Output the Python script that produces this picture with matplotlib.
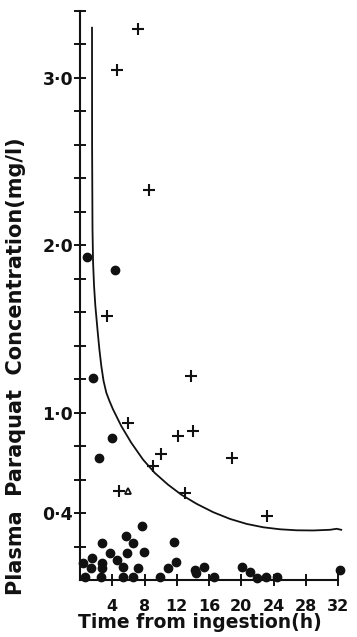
import matplotlib
matplotlib.use("Agg")
import matplotlib.pyplot as plt
import numpy as np

# ---- data ----
dots_x = [0.9, 4.4, 1.6, 4.0, 2.3, 2.7, 5.7, 7.7, 6.6, 7.9, 3.7, 4.6, 5.8, 5.3, 7.2,
          1.5, 0.4, 1.4, 2.7, 2.7, 0.6, 2.6, 5.3, 6.6, 9.9, 11.7, 11.9, 10.9, 14.3,
          14.4, 15.4, 16.6, 20.1, 21.1, 21.9, 23.1, 24.4, 32.2]
dots_y = [1.93, 1.85, 1.21, 0.85, 0.73, 0.22, 0.26, 0.32, 0.22, 0.17, 0.16, 0.12, 0.16, 0.08, 0.07,
          0.13, 0.10, 0.07, 0.10, 0.07, 0.02, 0.02, 0.02, 0.02, 0.02, 0.23, 0.11, 0.07, 0.06,
          0.04, 0.08, 0.02, 0.08, 0.05, 0.01, 0.02, 0.02, 0.06]

cross_x = [4.6, 7.2, 8.6, 3.3, 6.0, 12.1, 10.1, 9.0, 4.8, 13.8, 14.0, 18.8, 13.0, 23.2]
cross_y = [3.05, 3.29, 2.33, 1.58, 0.94, 0.86, 0.75, 0.68, 0.53, 1.22, 0.89, 0.73, 0.52, 0.38]

tri_x = [6.0]
tri_y = [0.53]

curve_x = [1.49, 1.50, 1.55, 1.62, 1.74, 1.90, 2.20, 2.40, 2.64, 2.92, 3.26, 3.65, 4.09, 5.12,
           6.36, 7.81, 9.27, 10.91, 12.56, 14.47, 16.53, 18.60, 20.68, 22.73, 24.81, 26.88,
           28.94, 31.0, 31.84, 32.4]
curve_y = [3.30, 2.60, 2.10, 1.90, 1.76, 1.64, 1.48, 1.38, 1.28, 1.19, 1.12, 1.07, 1.02, 0.92,
           0.82, 0.72, 0.64, 0.57, 0.51, 0.455, 0.405, 0.365, 0.335, 0.315, 0.303, 0.297,
           0.296, 0.30, 0.306, 0.30]

x_ticks = [4, 8, 12, 16, 20, 24, 28, 32]
y_label_ticks = [0.4, 1.0, 2.0, 3.0]
y_tick_labels = ["0·4", "1·0", "2·0", "3·0"]

ink = "#111111"
W, H = 357, 637
fig = plt.figure(figsize=(W / 100, H / 100), dpi=100)
ax = fig.add_axes([80 / W, 1 - 580 / H, (338 - 80) / W, (580 - 11) / H])

ax.plot(curve_x, curve_y, color=ink, lw=1.3, clip_on=False, solid_joinstyle="round")
ax.plot(dots_x, dots_y, "o", color=ink, ms=6, mec=ink, clip_on=False, ls="none")
ax.plot(cross_x, cross_y, "+", color=ink, ms=8, mew=1.5, clip_on=False, ls="none")
ax.plot(tri_x, tri_y, "^", mfc="white", mec=ink, ms=5, mew=1.3, clip_on=False, ls="none")

ax.set_xlim(0, 32)
ax.set_ylim(0, 3.4)
for s in ["top", "right"]:
    ax.spines[s].set_visible(False)
for s in ["left", "bottom"]:
    ax.spines[s].set_linewidth(1.5)
    ax.spines[s].set_color(ink)

yt = np.round(np.arange(0.2, 3.41, 0.2), 1)
ax.set_yticks(yt)
ax.set_yticklabels([y_tick_labels[y_label_ticks.index(v)] if v in y_label_ticks else "" for v in yt])
ax.set_xticks(x_ticks)
ax.set_xticklabels([str(v) for v in x_ticks])

ax.tick_params(axis="both", direction="inout", length=8, width=1.4, color=ink)
ax.tick_params(axis="y", pad=1, labelsize=12.5, labelcolor=ink)
ax.tick_params(axis="x", pad=10, labelsize=11.5, labelcolor=ink)
for lab in ax.get_xticklabels() + ax.get_yticklabels():
    lab.set_fontweight("bold")

fig.text(200 / W, 1 - 623 / H, "Time from ingestion(h)", ha="center", va="center",
         fontsize=13.5, fontweight="bold", color=ink)
fig.text(16 / W, 1 - 366 / H, "Plasma  Paraquat  Concentration(mg/l)", ha="center", va="center",
         rotation=90, fontsize=15, fontweight="bold", color=ink)

fig.savefig("out.png", dpi=100)
